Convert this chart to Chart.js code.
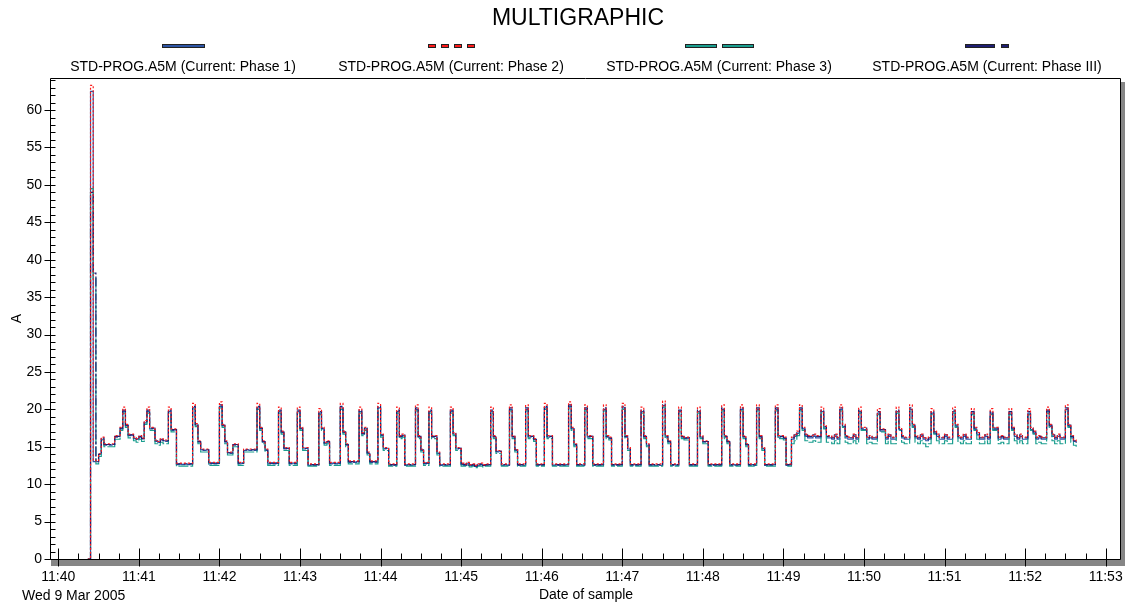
<!DOCTYPE html>
<html lang="en">
<head>
<meta charset="utf-8">
<title>MULTIGRAPHIC</title>
<script src="https://cdn.jsdelivr.net/npm/chart.js@4.4.1/dist/chart.umd.min.js"></script>
<style>
  html, body { margin: 0; padding: 0; background: #fff; }
  canvas { display: block; }
</style>
</head>
<body>
<canvas id="multiChart" width="1128" height="607"></canvas>
<script>
const chartTitle = "MULTIGRAPHIC";
const seriesNames = [
  "STD-PROG.A5M (Current: Phase 1)",
  "STD-PROG.A5M (Current: Phase 2)",
  "STD-PROG.A5M (Current: Phase 3)",
  "STD-PROG.A5M (Current: Phase III)"
];
const minuteLabels = ["11:40", "11:41", "11:42", "11:43", "11:44", "11:45", "11:46",
  "11:47", "11:48", "11:49", "11:50", "11:51", "11:52", "11:53"];
const dateCaption = "Wed 9 Mar 2005";
const xAxisTitle = "Date of sample";
const yAxisTitle = "A";

// seconds after 11:40:00 of the first sample, then one sample every 2 s
const firstSampleSecond = 22;
const sampleStepSeconds = 2;

const phase1Amps = [
  0, 62.5, 13.0, 13.0, 14.0, 16.0, 15.2, 15.3, 15.2, 15.3,
  16.3, 16.4, 17.4, 19.7, 17.8, 16.5, 16.6, 16.1, 16.0, 16.3,
  16.1, 18.2, 19.7, 17.4, 17.5, 15.7, 15.6, 15.9, 15.8, 15.7,
  19.7, 17.2, 17.3, 12.6, 12.7, 12.6, 12.7, 12.6, 12.7, 20.2,
  17.9, 15.6, 14.6, 14.5, 14.6, 12.7, 12.8, 12.7, 12.8, 20.4,
  17.8, 15.6, 14.2, 14.1, 15.2, 15.3, 12.7, 12.8, 14.5, 14.6,
  14.5, 14.6, 14.5, 20.2, 17.4, 15.6, 14.5, 12.7, 12.8, 12.7,
  12.8, 19.7, 16.9, 14.7, 14.8, 12.7, 12.8, 12.7, 19.7, 17.4,
  14.7, 14.8, 12.5, 12.6, 12.5, 12.6, 19.5, 17.4, 15.4, 15.6,
  12.7, 12.8, 12.7, 12.8, 20.2, 16.9, 15.2, 12.9, 13.0, 12.9,
  13.0, 19.7, 16.7, 17.4, 14.1, 12.9, 13.0, 12.9, 20.2, 16.5,
  14.7, 14.8, 12.5, 12.6, 12.5, 19.7, 16.3, 16.5, 12.5, 12.6,
  12.5, 12.6, 20.0, 16.3, 14.5, 12.7, 12.8, 19.7, 16.3, 16.4,
  14.1, 12.5, 12.6, 12.5, 12.6, 19.7, 16.7, 14.7, 14.8, 12.6,
  12.5, 12.7, 12.5, 12.5, 12.4, 12.5, 12.6, 12.5, 12.5, 12.6,
  19.7, 16.3, 14.3, 14.4, 12.5, 12.6, 12.5, 20.0, 16.3, 14.5,
  12.5, 12.6, 12.5, 20.0, 16.3, 16.4, 15.9, 12.5, 12.6, 12.5,
  20.2, 16.3, 16.4, 12.5, 12.6, 12.5, 12.6, 12.5, 12.6, 20.4,
  17.4, 15.2, 12.5, 12.6, 12.5, 20.0, 16.3, 16.4, 12.5, 12.6,
  12.5, 12.6, 20.0, 16.3, 16.1, 12.5, 12.6, 12.5, 12.6, 20.2,
  16.3, 14.7, 12.5, 12.6, 12.5, 12.6, 19.7, 16.3, 15.2, 12.5,
  12.6, 12.5, 12.6, 12.5, 20.5, 16.3, 15.6, 12.5, 12.6, 12.5,
  19.7, 16.3, 16.1, 16.2, 12.5, 12.6, 12.5, 19.7, 16.3, 15.6,
  15.7, 12.5, 12.6, 12.5, 12.6, 12.5, 20.0, 16.3, 15.6, 12.5,
  12.6, 12.5, 12.6, 20.0, 16.3, 15.2, 12.5, 12.6, 12.5, 20.0,
  16.3, 14.7, 12.5, 12.6, 12.5, 12.6, 20.0, 16.3, 16.4, 16.1,
  12.5, 12.6, 16.0, 16.4, 16.8, 20.0, 17.4, 16.4, 16.2, 16.2,
  16.4, 16.2, 16.2, 19.7, 17.5, 16.2, 16.2, 16.0, 16.4, 16.0,
  20.0, 17.7, 16.2, 16.0, 16.0, 16.4, 16.0, 19.7, 17.3, 17.3,
  16.0, 16.2, 16.0, 16.0, 19.5, 17.1, 17.1, 16.0, 16.4, 16.0,
  16.0, 19.7, 17.3, 16.2, 16.0, 16.0, 20.0, 17.7, 16.2, 16.0,
  16.4, 16.0, 15.8, 16.0, 19.5, 16.8, 16.4, 16.0, 16.0, 16.4,
  16.0, 16.0, 19.7, 17.7, 16.2, 16.0, 16.4, 16.0, 16.0, 19.5,
  17.3, 16.6, 16.0, 16.0, 16.4, 16.0, 19.5, 17.3, 17.3, 16.0,
  16.2, 16.0, 16.0, 19.5, 17.3, 16.4, 16.0, 16.4, 16.0, 16.0,
  19.5, 17.3, 16.8, 16.0, 16.2, 16.0, 16.0, 19.7, 17.7, 16.4,
  16.0, 16.4, 16.0, 16.0, 20.0, 17.7, 16.2, 15.7, 15.5
];

const phase2Amps = [
  0, 63.3, 13.2, 13.1, 14.1, 16.3, 15.4, 15.4, 15.4, 15.4,
  16.5, 16.5, 17.6, 20.3, 18.0, 16.7, 16.7, 16.3, 16.1, 16.5,
  16.2, 18.5, 20.3, 17.6, 17.6, 15.9, 15.7, 16.1, 15.9, 15.9,
  20.3, 17.4, 17.4, 12.8, 12.8, 12.8, 12.8, 12.8, 12.8, 20.8,
  18.1, 15.8, 14.7, 14.7, 14.7, 12.9, 12.9, 12.9, 12.9, 21.0,
  18.0, 15.8, 14.3, 14.3, 15.4, 15.4, 12.9, 12.9, 14.7, 14.7,
  14.7, 14.7, 14.7, 20.8, 17.6, 15.8, 14.7, 12.9, 12.9, 12.9,
  12.9, 20.3, 17.1, 14.9, 14.9, 12.9, 12.9, 12.9, 20.3, 17.6,
  14.9, 14.9, 12.7, 12.7, 12.7, 12.7, 20.1, 17.6, 15.6, 15.8,
  12.9, 12.9, 12.9, 12.9, 20.8, 17.1, 15.4, 13.1, 13.1, 13.1,
  13.1, 20.3, 16.9, 17.6, 14.3, 13.1, 13.1, 13.1, 20.8, 16.7,
  14.9, 14.9, 12.7, 12.7, 12.7, 20.3, 16.5, 16.7, 12.7, 12.7,
  12.7, 12.7, 20.6, 16.5, 14.7, 12.9, 12.9, 20.3, 16.5, 16.5,
  14.3, 12.7, 12.7, 12.7, 12.7, 20.3, 16.9, 14.9, 14.9, 12.8,
  12.7, 12.9, 12.6, 12.7, 12.5, 12.7, 12.8, 12.6, 12.7, 12.7,
  20.3, 16.5, 14.5, 14.5, 12.7, 12.7, 12.7, 20.6, 16.5, 14.7,
  12.7, 12.7, 12.7, 20.6, 16.5, 16.5, 16.1, 12.7, 12.7, 12.7,
  20.8, 16.5, 16.5, 12.7, 12.7, 12.7, 12.7, 12.7, 12.7, 21.0,
  17.6, 15.4, 12.7, 12.7, 12.7, 20.6, 16.5, 16.5, 12.7, 12.7,
  12.7, 12.7, 20.6, 16.5, 16.3, 12.7, 12.7, 12.7, 12.7, 20.8,
  16.5, 14.9, 12.7, 12.7, 12.7, 12.7, 20.3, 16.5, 15.4, 12.7,
  12.7, 12.7, 12.7, 12.7, 21.1, 16.5, 15.8, 12.7, 12.7, 12.7,
  20.3, 16.5, 16.3, 16.3, 12.7, 12.7, 12.7, 20.3, 16.5, 15.8,
  15.8, 12.7, 12.7, 12.7, 12.7, 12.7, 20.6, 16.5, 15.8, 12.7,
  12.7, 12.7, 12.7, 20.6, 16.5, 15.4, 12.7, 12.7, 12.7, 20.6,
  16.5, 14.9, 12.7, 12.7, 12.7, 12.7, 20.6, 16.5, 16.5, 16.3,
  12.7, 12.7, 16.3, 16.7, 17.1, 20.6, 17.6, 16.7, 16.5, 16.5,
  16.7, 16.5, 16.5, 20.3, 17.8, 16.5, 16.5, 16.3, 16.7, 16.3,
  20.6, 18.0, 16.5, 16.3, 16.3, 16.7, 16.3, 20.3, 17.6, 17.6,
  16.3, 16.5, 16.3, 16.3, 20.1, 17.4, 17.4, 16.3, 16.7, 16.3,
  16.3, 20.3, 17.6, 16.5, 16.3, 16.3, 20.6, 18.0, 16.5, 16.3,
  16.7, 16.3, 16.1, 16.3, 20.1, 17.1, 16.7, 16.3, 16.3, 16.7,
  16.3, 16.3, 20.3, 18.0, 16.5, 16.3, 16.7, 16.3, 16.3, 20.1,
  17.6, 16.9, 16.3, 16.3, 16.7, 16.3, 20.1, 17.6, 17.6, 16.3,
  16.5, 16.3, 16.3, 20.1, 17.6, 16.7, 16.3, 16.7, 16.3, 16.3,
  20.1, 17.6, 17.1, 16.3, 16.5, 16.3, 16.3, 20.3, 18.0, 16.7,
  16.3, 16.7, 16.3, 16.3, 20.6, 18.0, 16.5, 15.9, 15.7
];

const phase3Amps = [
  0, 49.5, 37.5, 12.7, 13.7, 15.9, 15.0, 15.0, 15.0, 15.0,
  16.0, 16.0, 17.2, 19.5, 17.6, 16.2, 16.2, 15.8, 15.6, 16.0,
  15.7, 18.0, 19.5, 17.2, 17.2, 15.4, 15.2, 15.6, 15.4, 15.4,
  19.5, 17.0, 17.0, 12.4, 12.4, 12.4, 12.4, 12.4, 12.4, 20.0,
  17.7, 15.4, 14.3, 14.3, 14.3, 12.5, 12.5, 12.5, 12.5, 20.2,
  17.6, 15.4, 13.9, 13.9, 15.0, 15.0, 12.5, 12.5, 14.3, 14.3,
  14.3, 14.3, 14.3, 20.0, 17.2, 15.4, 14.3, 12.5, 12.5, 12.5,
  12.5, 19.5, 16.7, 14.5, 14.5, 12.5, 12.5, 12.5, 19.5, 17.2,
  14.5, 14.5, 12.4, 12.4, 12.4, 12.4, 19.3, 17.2, 15.2, 15.4,
  12.5, 12.5, 12.5, 12.5, 20.0, 16.7, 15.0, 12.7, 12.7, 12.7,
  12.7, 19.5, 16.5, 17.2, 13.9, 12.7, 12.7, 12.7, 20.0, 16.3,
  14.5, 14.5, 12.4, 12.4, 12.4, 19.5, 16.1, 16.3, 12.4, 12.4,
  12.4, 12.4, 19.8, 16.1, 14.3, 12.5, 12.5, 19.5, 16.1, 16.1,
  13.9, 12.4, 12.4, 12.4, 12.4, 19.5, 16.5, 14.5, 14.5, 12.4,
  12.4, 12.5, 12.3, 12.4, 12.2, 12.4, 12.4, 12.3, 12.4, 12.4,
  19.5, 16.1, 14.1, 14.1, 12.4, 12.4, 12.4, 19.8, 16.1, 14.3,
  12.4, 12.4, 12.4, 19.8, 16.1, 16.1, 15.7, 12.4, 12.4, 12.4,
  20.0, 16.1, 16.1, 12.4, 12.4, 12.4, 12.4, 12.4, 12.4, 20.2,
  17.2, 15.0, 12.4, 12.4, 12.4, 19.8, 16.1, 16.1, 12.4, 12.4,
  12.4, 12.4, 19.8, 16.1, 15.9, 12.4, 12.4, 12.4, 12.4, 20.0,
  16.1, 14.5, 12.4, 12.4, 12.4, 12.4, 19.5, 16.1, 15.0, 12.4,
  12.4, 12.4, 12.4, 12.4, 20.3, 16.1, 15.4, 12.4, 12.4, 12.4,
  19.5, 16.1, 15.9, 15.9, 12.4, 12.4, 12.4, 19.5, 16.1, 15.4,
  15.4, 12.4, 12.4, 12.4, 12.4, 12.4, 19.8, 16.1, 15.4, 12.4,
  12.4, 12.4, 12.4, 19.8, 16.1, 15.0, 12.4, 12.4, 12.4, 19.8,
  16.1, 14.5, 12.4, 12.4, 12.4, 12.4, 19.8, 16.1, 16.1, 15.9,
  12.4, 12.4, 15.4, 15.8, 16.5, 19.8, 17.2, 15.8, 15.6, 15.6,
  15.8, 15.6, 15.6, 19.5, 17.4, 15.6, 15.6, 15.4, 15.8, 15.4,
  19.8, 17.6, 15.6, 15.4, 15.4, 15.8, 15.4, 19.5, 17.2, 17.2,
  15.4, 15.6, 15.4, 15.4, 19.3, 17.0, 17.0, 15.4, 15.8, 15.4,
  15.4, 19.5, 17.2, 15.6, 15.4, 15.4, 19.8, 17.6, 15.6, 15.4,
  15.8, 15.4, 15.0, 15.4, 19.3, 16.7, 15.8, 15.4, 15.4, 15.8,
  15.4, 15.4, 19.5, 17.6, 15.6, 15.4, 15.8, 15.4, 15.4, 19.3,
  17.2, 16.0, 15.4, 15.4, 15.8, 15.4, 19.3, 17.2, 17.2, 15.4,
  15.6, 15.4, 15.4, 19.3, 17.2, 15.8, 15.4, 15.8, 15.4, 15.4,
  19.3, 17.2, 16.7, 15.4, 15.6, 15.4, 15.4, 19.5, 17.6, 15.8,
  15.4, 15.8, 15.4, 15.4, 19.8, 17.6, 15.6, 15.2, 15.0
];

const phaseIIIAmps = [
  0, 49.0, 38.2, 13.0, 14.0, 16.2, 15.3, 15.3, 15.3, 15.3,
  16.4, 16.4, 17.5, 19.9, 17.9, 16.6, 16.6, 16.2, 16.0, 16.4,
  16.1, 18.4, 19.9, 17.5, 17.5, 15.8, 15.6, 16.0, 15.8, 15.8,
  19.9, 17.3, 17.3, 12.7, 12.7, 12.7, 12.7, 12.7, 12.7, 20.4,
  18.0, 15.7, 14.6, 14.6, 14.6, 12.8, 12.8, 12.8, 12.8, 20.6,
  17.9, 15.7, 14.2, 14.2, 15.3, 15.3, 12.8, 12.8, 14.6, 14.6,
  14.6, 14.6, 14.6, 20.4, 17.5, 15.7, 14.6, 12.8, 12.8, 12.8,
  12.8, 19.9, 17.0, 14.8, 14.8, 12.8, 12.8, 12.8, 19.9, 17.5,
  14.8, 14.8, 12.6, 12.6, 12.6, 12.6, 19.7, 17.5, 15.5, 15.7,
  12.8, 12.8, 12.8, 12.8, 20.4, 17.0, 15.3, 13.0, 13.0, 13.0,
  13.0, 19.9, 16.8, 17.5, 14.2, 13.0, 13.0, 13.0, 20.4, 16.6,
  14.8, 14.8, 12.6, 12.6, 12.6, 19.9, 16.4, 16.6, 12.6, 12.6,
  12.6, 12.6, 20.2, 16.4, 14.6, 12.8, 12.8, 19.9, 16.4, 16.4,
  14.2, 12.6, 12.6, 12.6, 12.6, 19.9, 16.8, 14.8, 14.8, 12.7,
  12.6, 12.8, 12.5, 12.6, 12.4, 12.6, 12.7, 12.5, 12.6, 12.6,
  19.9, 16.4, 14.4, 14.4, 12.6, 12.6, 12.6, 20.2, 16.4, 14.6,
  12.6, 12.6, 12.6, 20.2, 16.4, 16.4, 16.0, 12.6, 12.6, 12.6,
  20.4, 16.4, 16.4, 12.6, 12.6, 12.6, 12.6, 12.6, 12.6, 20.6,
  17.5, 15.3, 12.6, 12.6, 12.6, 20.2, 16.4, 16.4, 12.6, 12.6,
  12.6, 12.6, 20.2, 16.4, 16.2, 12.6, 12.6, 12.6, 12.6, 20.4,
  16.4, 14.8, 12.6, 12.6, 12.6, 12.6, 19.9, 16.4, 15.3, 12.6,
  12.6, 12.6, 12.6, 12.6, 20.7, 16.4, 15.7, 12.6, 12.6, 12.6,
  19.9, 16.4, 16.2, 16.2, 12.6, 12.6, 12.6, 19.9, 16.4, 15.7,
  15.7, 12.6, 12.6, 12.6, 12.6, 12.6, 20.2, 16.4, 15.7, 12.6,
  12.6, 12.6, 12.6, 20.2, 16.4, 15.3, 12.6, 12.6, 12.6, 20.2,
  16.4, 14.8, 12.6, 12.6, 12.6, 12.6, 20.2, 16.4, 16.4, 16.2,
  12.6, 12.6, 16.2, 16.6, 17.0, 20.2, 17.5, 16.6, 16.4, 16.4,
  16.6, 16.4, 16.4, 19.9, 17.7, 16.4, 16.4, 16.2, 16.6, 16.2,
  20.2, 17.9, 16.4, 16.2, 16.2, 16.6, 16.2, 19.9, 17.5, 17.5,
  16.2, 16.4, 16.2, 16.2, 19.7, 17.3, 17.3, 16.2, 16.6, 16.2,
  16.2, 19.9, 17.5, 16.4, 16.2, 16.2, 20.2, 17.9, 16.4, 16.2,
  16.6, 16.2, 16.0, 16.2, 19.7, 17.0, 16.6, 16.2, 16.2, 16.6,
  16.2, 16.2, 19.9, 17.9, 16.4, 16.2, 16.6, 16.2, 16.2, 19.7,
  17.5, 16.8, 16.2, 16.2, 16.6, 16.2, 19.7, 17.5, 17.5, 16.2,
  16.4, 16.2, 16.2, 19.7, 17.5, 16.6, 16.2, 16.6, 16.2, 16.2,
  19.7, 17.5, 17.0, 16.2, 16.4, 16.2, 16.2, 19.9, 17.9, 16.6,
  16.2, 16.6, 16.2, 16.2, 20.2, 17.9, 16.4, 15.8, 15.6
];

const FONT = '"Liberation Sans", Arial, Helvetica, sans-serif';
Chart.defaults.font.family = FONT;
Chart.defaults.font.size = 14;
Chart.defaults.color = "#000";

// legend swatch pieces: [offset, width] in px, one list per series
const legendMarks = [
  [[0, 43]],
  [[0, 8], [13, 8], [26, 8], [39, 8]],
  [[0, 32], [37, 32]],
  [[0, 30], [36, 8]]
];

function toPoints(values) {
  return values.map((v, i) => ({ x: firstSampleSecond + i * sampleStepSeconds, y: v }));
}

function crisp(v) {
  return Math.round(v) + 0.5;
}

const frameAndTicks = {
  id: "frameAndTicks",
  beforeDatasetsDraw(chart) {
    const { ctx, chartArea: a } = chart;
    ctx.save();
    ctx.fillStyle = "#868686";
    ctx.fillRect(a.left, a.bottom, a.right - a.left + 4, 7);
    ctx.fillRect(a.right, a.top + 4, 4, a.bottom - a.top + 3);
    ctx.restore();
  },
  afterDatasetsDraw(chart) {
    const { ctx, chartArea: a, scales } = chart;
    const x = scales.x;
    const y = scales.y;
    const left = crisp(a.left - 1);
    const right = crisp(a.right - 1);
    const top = crisp(a.top);
    const bottom = crisp(a.bottom);
    ctx.save();
    ctx.strokeStyle = "#000";
    ctx.lineWidth = 1;
    ctx.beginPath();
    ctx.moveTo(left, top);
    ctx.lineTo(right, top);
    ctx.lineTo(right, bottom);
    ctx.lineTo(left, bottom);
    ctx.closePath();
    for (let s = 0; s <= x.max; s += 15) {
      const px = crisp(x.getPixelForValue(s));
      const major = s % 60 === 0;
      ctx.moveTo(px, bottom - (major ? 11 : 6));
      ctx.lineTo(px, bottom + (major ? 7 : 0));
    }
    for (let v = 0; v <= y.max; v += 1) {
      const py = crisp(y.getPixelForValue(v));
      ctx.moveTo(left, py);
      ctx.lineTo(left + 5, py);
      if (v % 5 === 0) {
        ctx.moveTo(left - 6, py);
        ctx.lineTo(left, py);
      }
    }
    ctx.stroke();
    ctx.restore();
  }
};

const headerAndLegend = {
  id: "headerAndLegend",
  afterDraw(chart) {
    const { ctx } = chart;
    ctx.save();
    ctx.fillStyle = "#000";
    ctx.textAlign = "center";
    ctx.textBaseline = "middle";
    ctx.font = `23px ${FONT}`;
    ctx.fillText(chartTitle, 578, 19);

    ctx.font = `14px ${FONT}`;
    chart.data.datasets.forEach((ds, i) => {
      const cx = 183 + 268 * i;
      const marks = legendMarks[i];
      const last = marks[marks.length - 1];
      const total = last[0] + last[1];
      const x0 = Math.round(cx - total / 2);
      marks.forEach(([off, w]) => {
        ctx.fillStyle = ds.borderColor;
        ctx.fillRect(x0 + off, 44, w, 4);
        ctx.strokeStyle = "#222";
        ctx.lineWidth = 1;
        ctx.strokeRect(x0 + off + 0.5, 44.5, w - 1, 3);
      });
      ctx.fillStyle = "#000";
      ctx.fillText(ds.label, cx, 67);
    });

    ctx.textAlign = "left";
    ctx.fillText(dateCaption, 22, 596);
    ctx.restore();
  }
};

new Chart(document.getElementById("multiChart"), {
  type: "line",
  data: {
    datasets: [
      { label: seriesNames[0], data: toPoints(phase1Amps), borderColor: "#2d55a5", order: 3 },
      { label: seriesNames[1], data: toPoints(phase2Amps), borderColor: "#ff1a1a", borderDash: [2, 2], order: 0 },
      { label: seriesNames[2], data: toPoints(phase3Amps), borderColor: "#1a9e8f", borderDash: [10, 2], order: 2 },
      { label: seriesNames[3], data: toPoints(phaseIIIAmps), borderColor: "#1e1e72", borderDash: [10, 2, 3, 2], order: 1 }
    ]
  },
  options: {
    responsive: false,
    animation: false,
    devicePixelRatio: 1,
    events: [],
    layout: { padding: { top: 78, right: 7, bottom: 0, left: 0 } },
    elements: {
      line: { borderWidth: 1.2, stepped: true, tension: 0, fill: false },
      point: { radius: 0 }
    },
    plugins: {
      legend: { display: false },
      title: { display: false },
      tooltip: { enabled: false }
    },
    scales: {
      x: {
        type: "linear",
        min: -5.44,
        max: 791.4,
        grid: { display: false, drawTicks: false },
        border: { display: false },
        ticks: {
          stepSize: 60,
          includeBounds: false,
          autoSkip: false,
          maxRotation: 0,
          padding: 10,
          callback: (v) => {
            const m = Math.round(v / 60);
            return Math.abs(v - m * 60) < 0.01 ? minuteLabels[m] : "";
          }
        },
        title: { display: true, text: xAxisTitle, padding: { top: 0, bottom: 3 } },
        afterFit: (s) => {
          s.height = 48;
          s.paddingLeft = 0;
          s.paddingRight = 0;
        }
      },
      y: {
        min: 0,
        max: 64.28,
        grid: { display: false, drawTicks: false },
        border: { display: false },
        ticks: { stepSize: 5, includeBounds: false, padding: 9 },
        title: { display: true, text: yAxisTitle, padding: { top: 9, bottom: 0 } },
        afterFit: (s) => {
          s.width = 51;
          s.paddingTop = 0;
          s.paddingBottom = 0;
        }
      }
    }
  },
  plugins: [frameAndTicks, headerAndLegend]
});
</script>
</body>
</html>
